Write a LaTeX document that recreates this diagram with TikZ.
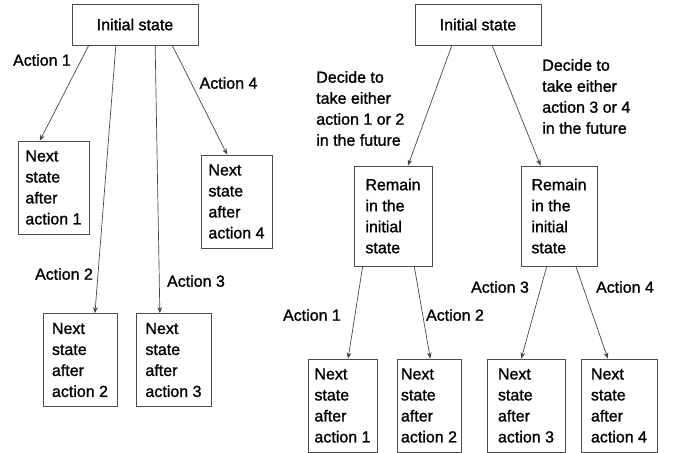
\documentclass[tikz,border=0pt]{standalone}
\usepackage{fontspec}
\setmainfont{Liberation Sans}[FakeBold=1.2]
\usepackage{tikz}
\usetikzlibrary{calc,arrows.meta}
\tikzset{box/.style={draw=black!70, line width=0.6pt, align=left, inner sep=2pt, minimum height=69.75pt},
    lab/.style={align=left, inner sep=0pt},
    act/.style={draw=black!75, line width=0.5pt, -{Stealth[length=4.5pt,width=3.5pt]}}}

\begin{document}
\begin{tikzpicture}[x=0.75pt,y=-0.75pt,every node/.style={font=\fontsize{12}{15.75}\selectfont}]
   \useasboundingbox (0,0) rectangle (678,453);
   % left tree
   \node[box, minimum width=94.5pt, minimum height=30.75pt] (initA) at (135,24.5) {Initial state};
   \node[box, minimum width=53.25pt] (nA1) at (53.5,187.5) {Next\\state\\after\\action 1};
   \node[box, minimum width=55.5pt] (nA2) at (80,360) {Next\\state\\after\\action 2};
   \node[box, minimum width=56.25pt] (nA3) at (173.5,360) {Next\\state\\after\\action 3};
   \node[box, minimum width=53.25pt] (nA4) at (236.5,201.5) {Next\\state\\after\\action 4};
   \draw[act] ($(initA.south west)!.135!(initA.south east)$) -- ($(nA1.north west)!.31!(nA1.north east)$);
   \draw[act] ($(initA.south west)!.349!(initA.south east)$) -- ($(nA2.north west)!.70!(nA2.north east)$);
   \draw[act] ($(initA.south west)!.659!(initA.south east)$) -- ($(nA3.north west)!.32!(nA3.north east)$);
   \draw[act] ($(initA.south west)!.794!(initA.south east)$) -- ($(nA4.north west)!.37!(nA4.north east)$);
   \node[lab] (lA1) at (42,60) {Action 1};
   \node[lab] (lA2) at (64,274) {Action 2};
   \node[lab] (lA3) at (196,281) {Action 3};
   \node[lab] (lA4) at (228.5,83) {Action 4};
   % right tree
   \node[box, minimum width=94.5pt, minimum height=30.75pt] (initB) at (478,24.5) {Initial state};
   \node[box, minimum width=58.5pt, minimum height=75pt] (remA) at (393,216) {Remain\\in the\\initial\\state};
   \node[box, minimum width=57pt, minimum height=75pt] (remB) at (559,216) {Remain\\in the\\initial\\state};
   \draw[act] ($(initB.south west)!.294!(initB.south east)$) -- ($(remA.north west)!.69!(remA.north east)$);
   \draw[act] ($(initB.south west)!.611!(initB.south east)$) -- ($(remB.north west)!.26!(remB.north east)$);
   \node[lab, anchor=west] (dA) at (316,108.5) {Decide to\\take either\\action 1 or 2\\in the future};
   \node[lab, anchor=west] (dB) at (542,96.5) {Decide to\\take either\\action 3 or 4\\in the future};
   \node[box, minimum width=51.75pt] (nB1) at (342.5,405.5) {Next\\state\\after\\action 1};
   \node[box, minimum width=48pt] (nB2) at (429,405.5) {Next\\state\\after\\action 2};
   \node[box, minimum width=58.5pt] (nB3) at (526,405.5) {Next\\state\\after\\action 3};
   \node[box, minimum width=57pt] (nB4) at (619,405.5) {Next\\state\\after\\action 4};
   \draw[act] ($(remA.south west)!.115!(remA.south east)$) -- ($(nB1.north west)!.58!(nB1.north east)$);
   \draw[act] ($(remA.south west)!.77!(remA.south east)$) -- ($(nB2.north west)!.52!(nB2.north east)$);
   \draw[act] ($(remB.south west)!.34!(remB.south east)$) -- ($(nB3.north west)!.44!(nB3.north east)$);
   \draw[act] ($(remB.south west)!.72!(remB.south east)$) -- ($(nB4.north west)!.355!(nB4.north east)$);
   \node[lab] (lB1) at (312,315) {Action 1};
   \node[lab] (lB2) at (455,315) {Action 2};
   \node[lab] (lB3) at (500,287) {Action 3};
   \node[lab] (lB4) at (625,287) {Action 4};
\end{tikzpicture}
\end{document}
